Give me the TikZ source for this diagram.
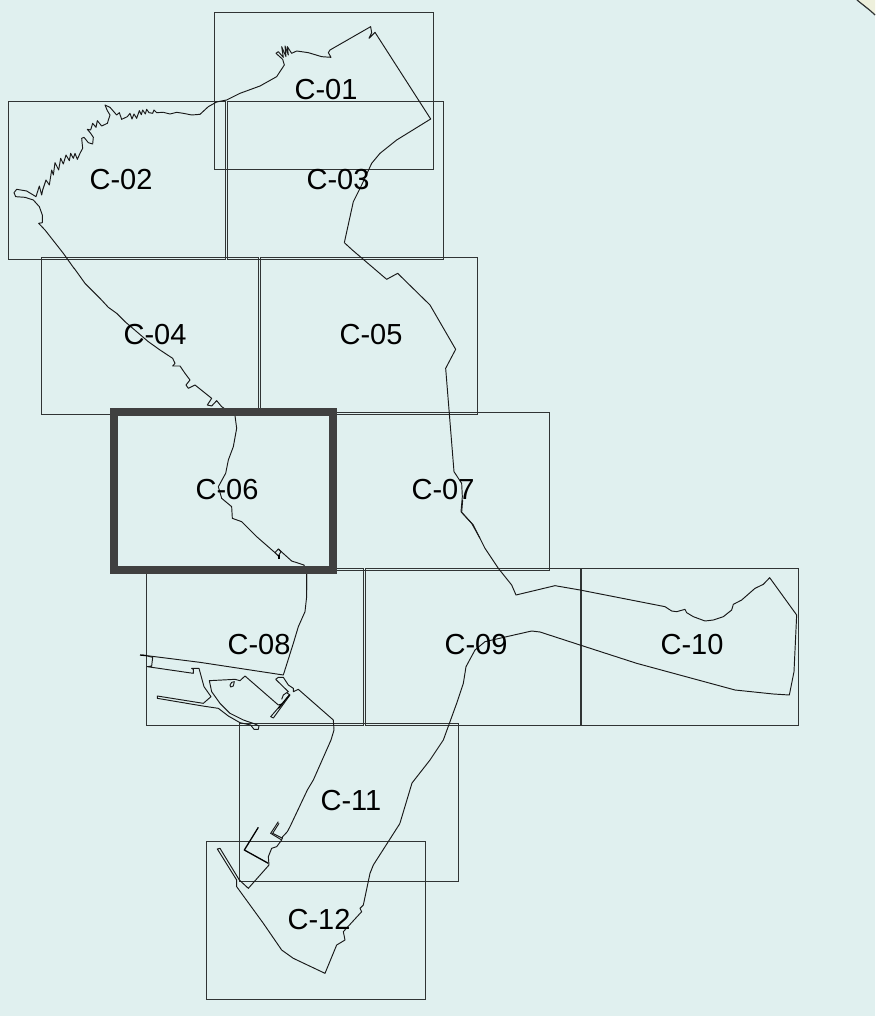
\documentclass[tikz,border=0pt]{standalone}
\usepackage{fontspec}
\setmainfont{Liberation Sans}
\definecolor{sea}{HTML}{E0F0EF}
\definecolor{land}{HTML}{EEF0DC}
\definecolor{edge}{HTML}{303434}
\tikzset{
  tile/.style={draw=edge,line width=0.9pt},
  active/.style={draw=black!75,line width=8pt,line join=miter},
  coast/.style={draw=black!90,line width=0.95pt,line join=round},
  pier/.style={draw=black,line width=1.3pt,line join=round},
  lbl/.style={font=\fontsize{29}{31}\selectfont,text=black,inner sep=0pt},
  z/.style={shift={(#1)},scale=1/3}
}
\begin{document}
\begin{tikzpicture}[x=1pt,y=-1pt]
\useasboundingbox (0,0) rectangle (875,1016);
\fill[sea] (0,0) rectangle (875,1016);
\fill[land] (857,0) .. controls (863,5) and (870,10) .. (875,15) -- (875,0) -- cycle;
\draw[draw=edge,line width=1.2pt] (857,0) .. controls (863,5) and (870,10) .. (875,15);
% tiles
\draw[tile] (214,12) rectangle (433,169);
\draw[tile] (8.5,101) rectangle (225.5,259);
\draw[tile] (227.5,101) rectangle (443.5,259);
\draw[tile] (41.5,257) rectangle (258,414);
\draw[tile] (260,257) rectangle (477,414);
\draw[tile] (333,412) rectangle (549,570);
\draw[tile] (146,568) rectangle (363,725);
\draw[tile] (365,568) rectangle (580,725);
\draw[tile] (581.5,568) rectangle (798,725);
\draw[tile] (239.5,723) rectangle (458.5,881);
\draw[tile] (206.5,841) rectangle (425,999);
% north coast (crop at 0,0)
\begin{scope}[z={0,0}]
\draw[coast] (1033,728) -- (1060,605) -- (1085,555) -- (1115,490) -- (1140,460) -- (1190,420) -- (1292,357) -- (1125,97) -- (1107,115) -- (1115,98) -- (1112,80) -- (990,150) -- (985,158) -- (993,172) -- (965,170) -- (925,158) -- (890,153) -- (875,160) -- (862,140) -- (865,165) -- (855,138) -- (858,170) -- (845,140) -- (850,172) -- (835,155) -- (828,160) -- (848,178) -- (853,195) -- (830,230) -- (780,258) -- (720,280) -- (680,300) -- (650,306) -- (625,320) -- (600,343) -- (575,345) -- (550,340) -- (530,337) -- (510,342) -- (490,337);
\end{scope}
% north-west coast (crop at 0,90)
\begin{scope}[z={0,90}]
\draw[coast] (490,67) -- (470,68) -- (462,60) -- (458,70) -- (447,68) -- (440,58) -- (436,72) -- (428,60) -- (424,74) -- (418,62) -- (410,85) -- (402,72) -- (396,87) -- (390,70) -- (382,80) -- (365,88) -- (358,68) -- (350,75) -- (330,52) -- (315,45) -- (322,62) -- (330,75) -- (322,100) -- (305,108) -- (292,92) -- (288,112) -- (278,100) -- (272,120) -- (262,118) -- (272,130) -- (280,142) -- (278,162) -- (265,158) -- (252,142) -- (245,145) -- (248,175) -- (240,190) -- (232,208) -- (225,190) -- (220,205) -- (212,190) -- (208,212) -- (198,195) -- (190,222) -- (182,205) -- (176,240) -- (165,218) -- (160,255) -- (155,240) -- (148,285) -- (138,270) -- (128,300) -- (125,315) -- (118,288) -- (108,320) -- (80,303) -- (50,298) -- (42,308) -- (47,320) -- (75,322) -- (100,330) -- (118,350) -- (127,375) -- (127,398) -- (116,400) -- (135,420) -- (190,490) -- (222,535);
\end{scope}
% west and east coast, middle (crop at 100,250)
\begin{scope}[z={100,250}]
\draw[coast] (-78,54) -- (-45,100) -- (0,145) -- (25,172) -- (50,190) -- (75,215) -- (110,245) -- (145,275) -- (180,300) -- (218,325) -- (225,340) -- (218,348) -- (240,348) -- (255,370) -- (270,390) -- (258,405) -- (265,415) -- (285,405) -- (310,425) -- (335,445) -- (322,465) -- (335,468) -- (350,452) -- (365,470) -- (405,497) -- (410,535) -- (400,590) -- (385,630) -- (377,670) -- (355,710) -- (365,745) -- (395,770) -- (397,805) -- (425,815) -- (470,860) -- (525,908) -- (535,897) -- (555,915) -- (575,933) -- (612,945) -- (620,970) -- (620,1020);
\draw[coast] (525,908) -- (535,918) -- (543,905) -- (535,897);
\draw[pier] (537,915) -- (537,928);
\draw[coast] (1140,865) -- (1115,820) -- (1083,785) -- (1087,740) -- (1085,700) -- (1062,665) -- (1037,355) -- (1067,298) -- (990,165) -- (893,70) -- (860,88) -- (757,0) -- (733,-22);
\end{scope}
% harbour (crop at 130,560)
\begin{scope}[z={130,560}]
\draw[coast] (530,40) -- (530,110) -- (525,155) -- (505,200) -- (490,250) -- (460,345) -- (210,307) -- (35,285);
\draw[pier] (30,285) -- (50,287);
\draw[coast] (52,288) -- (68,292) -- (65,318) -- (52,320) -- (190,340) -- (190,328) -- (185,325) -- (207,325) -- (222,380) -- (243,410) -- (220,430) -- (82,408) -- (82,415) -- (218,438) -- (265,445) -- (295,468) -- (330,488) -- (362,495) -- (372,508) -- (385,508) -- (387,498) -- (375,492) -- (340,480) -- (300,460) -- (270,430) -- (245,395) -- (238,362) -- (315,358) -- (330,362) -- (345,348) -- (445,435) -- (455,432) -- (422,470) -- (430,474) -- (480,405) -- (470,398) -- (460,405) -- (455,418);
\draw[pier] (445,445) -- (478,405);
\draw[coast] (300,375) -- (305,367) -- (313,365) -- (310,378) -- (302,381) -- cycle;
\draw[coast] (437,358) -- (445,352) -- (460,352) -- (475,375) -- (490,385) -- (490,395) -- (505,388) -- (610,480) -- (612,510) -- (603,540);
\draw[coast] (437,358) -- (475,395) -- (470,398);
\end{scope}
% south coast (crop at 200,780)
\begin{scope}[z={200,780}]
\draw[coast] (393,-120) -- (340,0) -- (325,25) -- (322,30) -- (270,140) -- (262,155) -- (248,170) -- (245,180) -- (230,200) -- (215,205) -- (205,230) -- (207,255) -- (145,325) -- (118,300) -- (60,205) -- (52,207) -- (110,300) -- (110,320) -- (190,430) -- (245,510) -- (280,535) -- (375,580) -- (410,495) -- (435,480) -- (430,455) -- (485,395) -- (480,385) -- (490,375) -- (510,280) -- (520,255) -- (600,130);
\draw[pier] (175,142) -- (133,210) -- (205,250);
\draw[coast] (235,125) -- (212,160) -- (245,180);
\draw[coast] (237,130) -- (218,160) -- (248,175);
\end{scope}
% east coast (crop at 440,500)
\begin{scope}[z={440,500}]
\draw[coast] (-120,969) -- (-84,849) -- (-30,780) -- (10,720) -- (50,610) -- (70,550) -- (78,500) -- (105,450) -- (135,425) -- (200,410) -- (275,393) -- (300,396) -- (420,435) -- (590,490) -- (885,570) -- (1000,582) -- (1048,585) -- (1062,515) -- (1070,345) -- (989,233) -- (970,253) -- (945,265) -- (905,300) -- (880,313) -- (875,330) -- (850,350) -- (820,360) -- (795,363) -- (760,350) -- (740,338) -- (735,328) -- (710,335) -- (695,333) -- (675,320) -- (420,270) -- (345,257) -- (228,285) -- (215,255) -- (175,205) -- (135,145) -- (100,75) -- (65,37) -- (68,0);
\end{scope}
% active tile
\draw[active] (113.5,411.5) rectangle (332.6,569.5);
% labels
\node[lbl] (c01) at (326,89.5) {C-01};
\node[lbl] (c02) at (121,179.5) {C-02};
\node[lbl] (c03) at (338,179.5) {C-03};
\node[lbl] (c04) at (155,335) {C-04};
\node[lbl] (c05) at (371,335) {C-05};
\node[lbl] (c06) at (227,490) {C-06};
\node[lbl] (c07) at (443,490) {C-07};
\node[lbl] (c08) at (259,645) {C-08};
\node[lbl] (c09) at (476,645) {C-09};
\node[lbl] (c10) at (692,645) {C-10};
\node[lbl] (c11) at (351,801) {C-11};
\node[lbl] (c12) at (319,919.5) {C-12};
\end{tikzpicture}
\end{document}
